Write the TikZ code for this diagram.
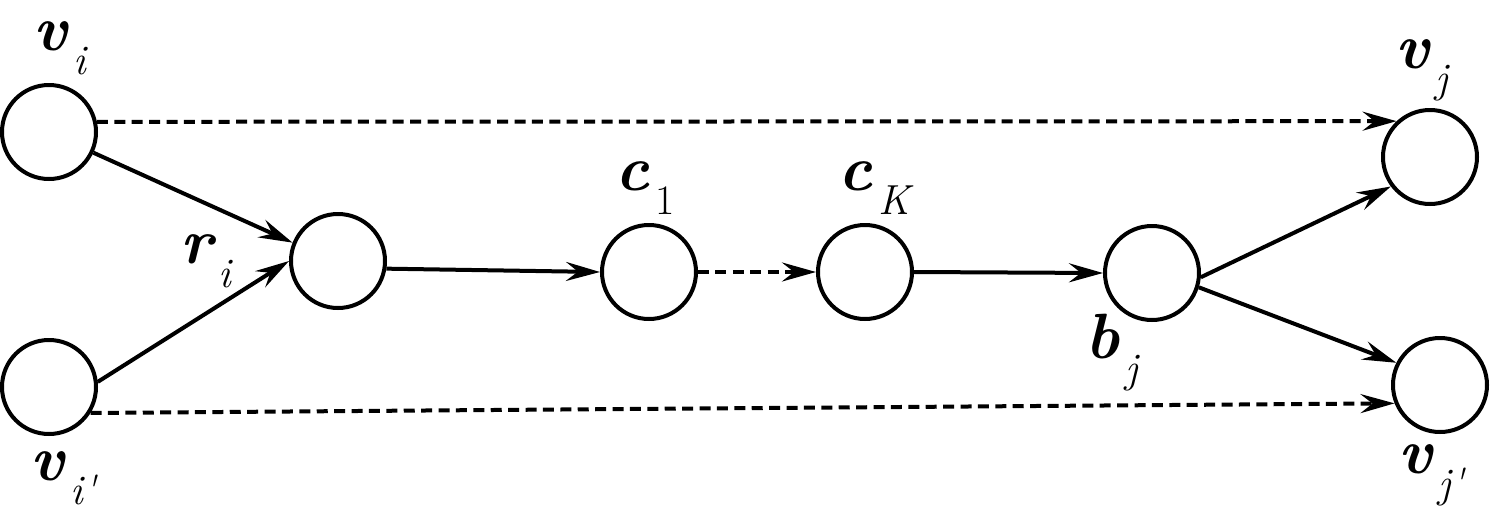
\documentclass[tikz,border=0pt]{standalone}
\usetikzlibrary{arrows.meta}
\newcommand{\mylbl}[2]{{\fontsize{32}{32}\selectfont\bfseries\itshape #1}\kern3pt\raisebox{-12pt}{\fontsize{21}{21}\selectfont #2}}
\begin{document}
\begin{tikzpicture}[x=0.5pt,y=-0.5pt,
  vert/.style={circle,draw,line width=2pt,minimum size=47pt,inner sep=0pt},
  lbl/.style={anchor=base west,inner sep=0pt},
  edge/.style={line width=2pt,-{Stealth[length=17pt,width=9.5pt,inset=6pt]}},
  dedge/.style={edge,dash pattern=on 5.5pt off 3.2pt}]
\useasboundingbox (0,0) rectangle (1490,525);
\node[vert] (vi)  at (49,132) {};
\node[vert] (vip) at (49,387) {};
\node[vert] (ri)  at (338,261) {};
\node[vert] (c1)  at (649,272) {};
\node[vert] (cK)  at (865,272) {};
\node[vert] (bj)  at (1152,273) {};
\node[vert] (vj)  at (1430,157) {};
\node[vert] (vjp) at (1440,385) {};
\node[lbl] (lvi)  at (33,50)    {\mylbl{v}{\itshape i}};
\node[lbl] (lvip) at (30,480)   {\mylbl{v}{\itshape i\textquotesingle}};
\node[lbl] (lri)  at (180,263)  {\mylbl{r}{\itshape i}};
\node[lbl] (lc1)  at (615,190)  {\mylbl{c}{1}};
\node[lbl] (lcK)  at (838,190)  {\mylbl{c}{\itshape K}};
\node[lbl] (lbj)  at (1085,358) {\mylbl{b}{\itshape j}};
\node[lbl] (lvj)  at (1395,68)  {\mylbl{v}{\itshape j}};
\node[lbl] (lvjp) at (1398,473) {\mylbl{v}{\itshape j\textquotesingle}};
\draw[dedge] (vi.12) -- (vj.133);
\draw[dedge] (vip.-32) -- (vjp.202);
\draw[edge] (vi.-25) -- (ri.158);
\draw[edge] (vip.6) -- (ri.west);
\draw[edge] (ri.-9) -- (c1.west);
\draw[dedge] (c1.east) -- (cK.west);
\draw[edge] (cK.east) -- (bj.west);
\draw[edge] (bj.-5) -- (vj.217);
\draw[edge] (bj.-17) -- (vjp.153);
\end{tikzpicture}
\end{document}
